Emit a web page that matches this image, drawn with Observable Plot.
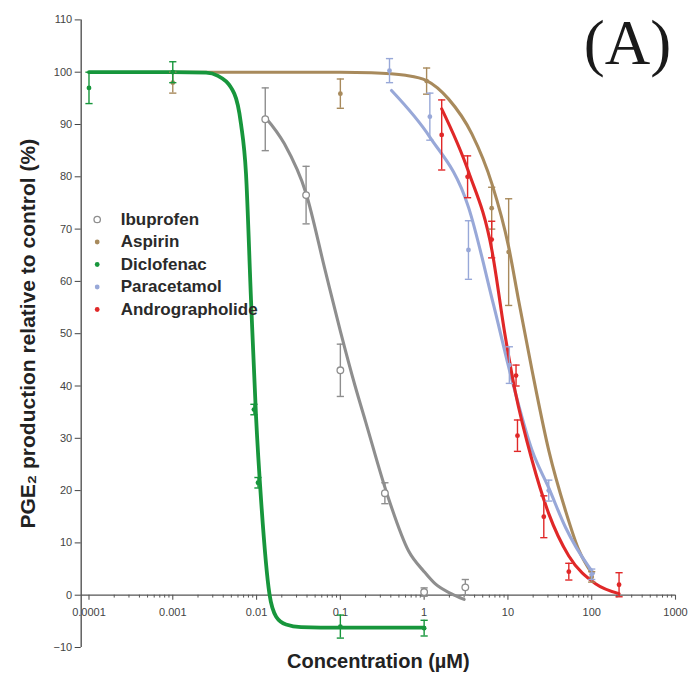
<!DOCTYPE html>
<html><head><meta charset="utf-8">
<script src="https://cdn.jsdelivr.net/npm/d3@7"></script>
<script src="https://cdn.jsdelivr.net/npm/@observablehq/plot@0.6"></script>
<style>body{margin:0;background:#fff}</style>
</head><body><div id="chart"></div>
<script>
// ---- categories & colours
const drugs = ["Ibuprofen", "Aspirin", "Diclofenac", "Paracetamol", "Andrographolide"];
const drugColors = ["#8e8e8e", "#a88a5c", "#17963c", "#98a8d8", "#e02828"];

// ---- measured points (mean, error)
const ibuprofenX = [0.0127, 0.039, 0.1, 0.34, 1, 3.1];
const ibuprofenY = [91, 76.5, 43, 19.5, 0.6, 1.5];
const ibuprofenErr = [6, 5.5, 5, 2, 0.8, 1.5];

const aspirinX = [0.001, 0.1, 1.07, 6.4, 10.2, 100];
const aspirinY = [98, 95.9, 98.3, 74, 65.6, 3.5];
const aspirinErr = [2, 2.8, 2.5, 4, 10.2, 1];

const diclofenacX = [0.0001, 0.001, 0.0093, 0.0104, 0.1, 1];
const diclofenacY = [97, 100, 35.5, 21.5, -6, -6.3];
const diclofenacErr = [3, 2, 1, 1, 2.2, 1.5];

const paracetamolX = [0.386, 1.17, 3.38, 10.4, 30.7, 100];
const paracetamolY = [100.3, 91.5, 66, 44, 20, 4];
const paracetamolErr = [2.3, 4.5, 5.6, 3.5, 2, 1];

const andrographolideX = [1.62, 3.3, 6.4, 12.5, 13, 26.8, 53.3, 212];
const andrographolideY = [88, 80, 68, 42, 30.5, 15, 4.5, 2];
const andrographolideErr = [6.7, 4, 3.5, 2, 3, 4, 1.6, 2.3];

// ---- fitted curves
const ibuprofenCurveX = [0.0127, 0.0215, 0.039, 0.065, 0.1, 0.15, 0.2, 0.36, 0.65, 1.0, 1.35, 2.1, 3.0];
const ibuprofenCurveY = [91.4, 86.3, 76.8, 62.5, 50.5, 40, 33.2, 19.4, 8.5, 4.5, 2.2, 0.3, -0.8];

const aspirinCurveX = [0.001, 0.01, 0.1, 0.235, 0.6, 1.07, 1.95, 3.71, 6.43, 10.2, 13.4, 19.4, 30.7, 48.6, 70.3, 101];
const aspirinCurveY = [100, 100, 100, 99.9, 99.4, 98.4, 94.9, 88.2, 78.7, 66.6, 56.4, 43, 27.7, 16.2, 8.6, 4.1];

const diclofenacCurveX = [0.0001, 0.001, 0.0025, 0.00346, 0.00542, 0.00652, 0.00748, 0.00859, 0.00986, 0.01132, 0.01423, 0.01714, 0.0225, 0.034, 0.1, 1];
const diclofenacCurveY = [100, 100, 99.9, 99.3, 95.9, 90.1, 80.6, 56.4, 34.1, 18.2, 0.3, -4.1, -5.6, -6.1, -6.2, -6.2];

const paracetamolCurveX = [0.408, 1.17, 3.38, 6.74, 11.2, 19.4, 30.7, 48.6, 92.5, 105];
const paracetamolCurveY = [96.5, 87.6, 74.2, 55.5, 41.1, 27.7, 20.5, 13, 5.4, 4.2];

const andrographolideCurveX = [1.62, 3.38, 6.43, 9.29, 12.2, 19.4, 30.7, 53.3, 111, 212];
const andrographolideCurveY = [93, 81, 66, 49.5, 39, 25.8, 15.6, 7.5, 2.2, 0.3];

// ---- axes
const xTicks = [0.0001, 0.001, 0.01, 0.1, 1, 10, 100, 1000];
const xTickLabels = ["0.0001", "0.001", "0.01", "0.1", "1", "10", "100", "1000"];
const yTicks = [-10, 0, 10, 20, 30, 40, 50, 60, 70, 80, 90, 100, 110];
const xLabel = "Concentration (\u00b5M)";
const yLabel = "PGE\u2082 production relative to control (%)";
const panelLabel = "(A)";

// ---- build tables
const pointSets = [
  [ibuprofenX, ibuprofenY, ibuprofenErr],
  [aspirinX, aspirinY, aspirinErr],
  [diclofenacX, diclofenacY, diclofenacErr],
  [paracetamolX, paracetamolY, paracetamolErr],
  [andrographolideX, andrographolideY, andrographolideErr]
];
const curveSets = [
  [ibuprofenCurveX, ibuprofenCurveY],
  [aspirinCurveX, aspirinCurveY],
  [diclofenacCurveX, diclofenacCurveY],
  [paracetamolCurveX, paracetamolCurveY],
  [andrographolideCurveX, andrographolideCurveY]
];
const points = drugs.map((d, k) => pointSets[k][0].map((x, i) => ({drug: d, x, y: pointSets[k][1][i], err: pointSets[k][2][i]})));
const curves = drugs.map((d, k) => curveSets[k][0].map((x, i) => ({drug: d, x, y: curveSets[k][1][i]})));

const minorTicks = [];
for (let e = -4; e < 3; e++) for (let m = 2; m <= 9; m++) minorTicks.push(m * 10 ** e);

const capSymbol = {draw(ctx, size) { const w = Math.sqrt(size / Math.PI); ctx.moveTo(-w, 0); ctx.lineTo(w, 0); }};

const xMin = 10 ** -4.093;
const axisColor = "#555";
const drawOrder = [0, 1, 3, 4, 2];

const marks = [];
// axes
marks.push(Plot.ruleY([0], {x1: xMin, x2: 1000, stroke: axisColor, strokeWidth: 1.2}));
marks.push(Plot.ruleX([xMin], {y1: -10, y2: 110, stroke: axisColor, strokeWidth: 1.4}));
marks.push(Plot.ruleX(xTicks, {x: d => d, y1: 0, y2: -0.95, stroke: axisColor, strokeWidth: 1.1}));
marks.push(Plot.ruleX(minorTicks, {x: d => d, y1: 0, y2: -0.55, stroke: axisColor, strokeWidth: 1}));
marks.push(Plot.text(xTicks, {x: d => d, y: 0, dy: 17, text: (d, i) => xTickLabels[i], fontSize: 11, fill: "#444", lineAnchor: "middle"}));
marks.push(Plot.axisY(yTicks, {tickSize: 6, tickPadding: 3, fontSize: 11, color: "#444", label: null}));
marks.push(Plot.text([yLabel], {frameAnchor: "left", dx: -52.5, rotate: -90, textAnchor: "middle", lineAnchor: "middle", fontSize: 21, fontWeight: "bold", fill: "#222"}));
marks.push(Plot.text([xLabel], {frameAnchor: "bottom", dy: 14, textAnchor: "middle", fontSize: 20, fontWeight: "bold", fill: "#222", lineAnchor: "middle"}));

// data
for (const k of drawOrder) {
  const c = drugColors[k];
  marks.push(Plot.line(curves[k], {x: "x", y: "y", stroke: c, strokeWidth: k === 2 ? 3.8 : 3.1, curve: "monotone-x"}));
}
for (const k of drawOrder) {
  const c = drugColors[k];
  marks.push(Plot.ruleX(points[k], {x: "x", y1: d => d.y - d.err, y2: d => d.y + d.err, stroke: c, strokeWidth: 1.4}));
  marks.push(Plot.dot(points[k], {x: "x", y: d => d.y + d.err, symbol: capSymbol, r: 3.6, stroke: c, strokeWidth: 1.4}));
  marks.push(Plot.dot(points[k], {x: "x", y: d => d.y - d.err, symbol: capSymbol, r: 3.6, stroke: c, strokeWidth: 1.4}));
  if (k === 0) marks.push(Plot.dot(points[k], {x: "x", y: "y", r: 3.3, stroke: c, fill: "white", strokeWidth: 1.3}));
  else marks.push(Plot.dot(points[k], {x: "x", y: "y", r: 2.4, fill: c}));
}

// legend
drugs.forEach((d, i) => {
  const dy = 219 + i * 22.5 - 19.4;
  if (i === 0) marks.push(Plot.dot([d], {frameAnchor: "top-left", dx: 16, dy, r: 3.2, stroke: drugColors[i], fill: "white", strokeWidth: 1.3}));
  else marks.push(Plot.dot([d], {frameAnchor: "top-left", dx: 16, dy, r: 2.4, fill: drugColors[i]}));
  marks.push(Plot.text([d], {frameAnchor: "top-left", dx: 39.5, dy, text: t => t, textAnchor: "start", lineAnchor: "middle", fontSize: 17, fontWeight: "bold", fill: "#2a2a2a"}));
});

// panel label
marks.push(Plot.text([panelLabel], {frameAnchor: "top-left", dx: 627 - 80.7, dy: 63 - 19.4, text: t => t, textAnchor: "middle", lineAnchor: "bottom", fontSize: 63, fontFamily: "Liberation Serif, Times New Roman, serif", fill: "#1a1a1a"}));

const chart = Plot.plot({
  width: 692, height: 676,
  marginLeft: 80.7, marginRight: 17, marginTop: 19.4, marginBottom: 29,
  x: {type: "log", domain: [xMin, 1000], axis: null},
  y: {domain: [-10, 110]},
  style: {fontFamily: "Liberation Sans, Arial, sans-serif", background: "white", overflow: "visible"},
  marks
});
document.getElementById("chart").appendChild(chart);
</script>
</body></html>
